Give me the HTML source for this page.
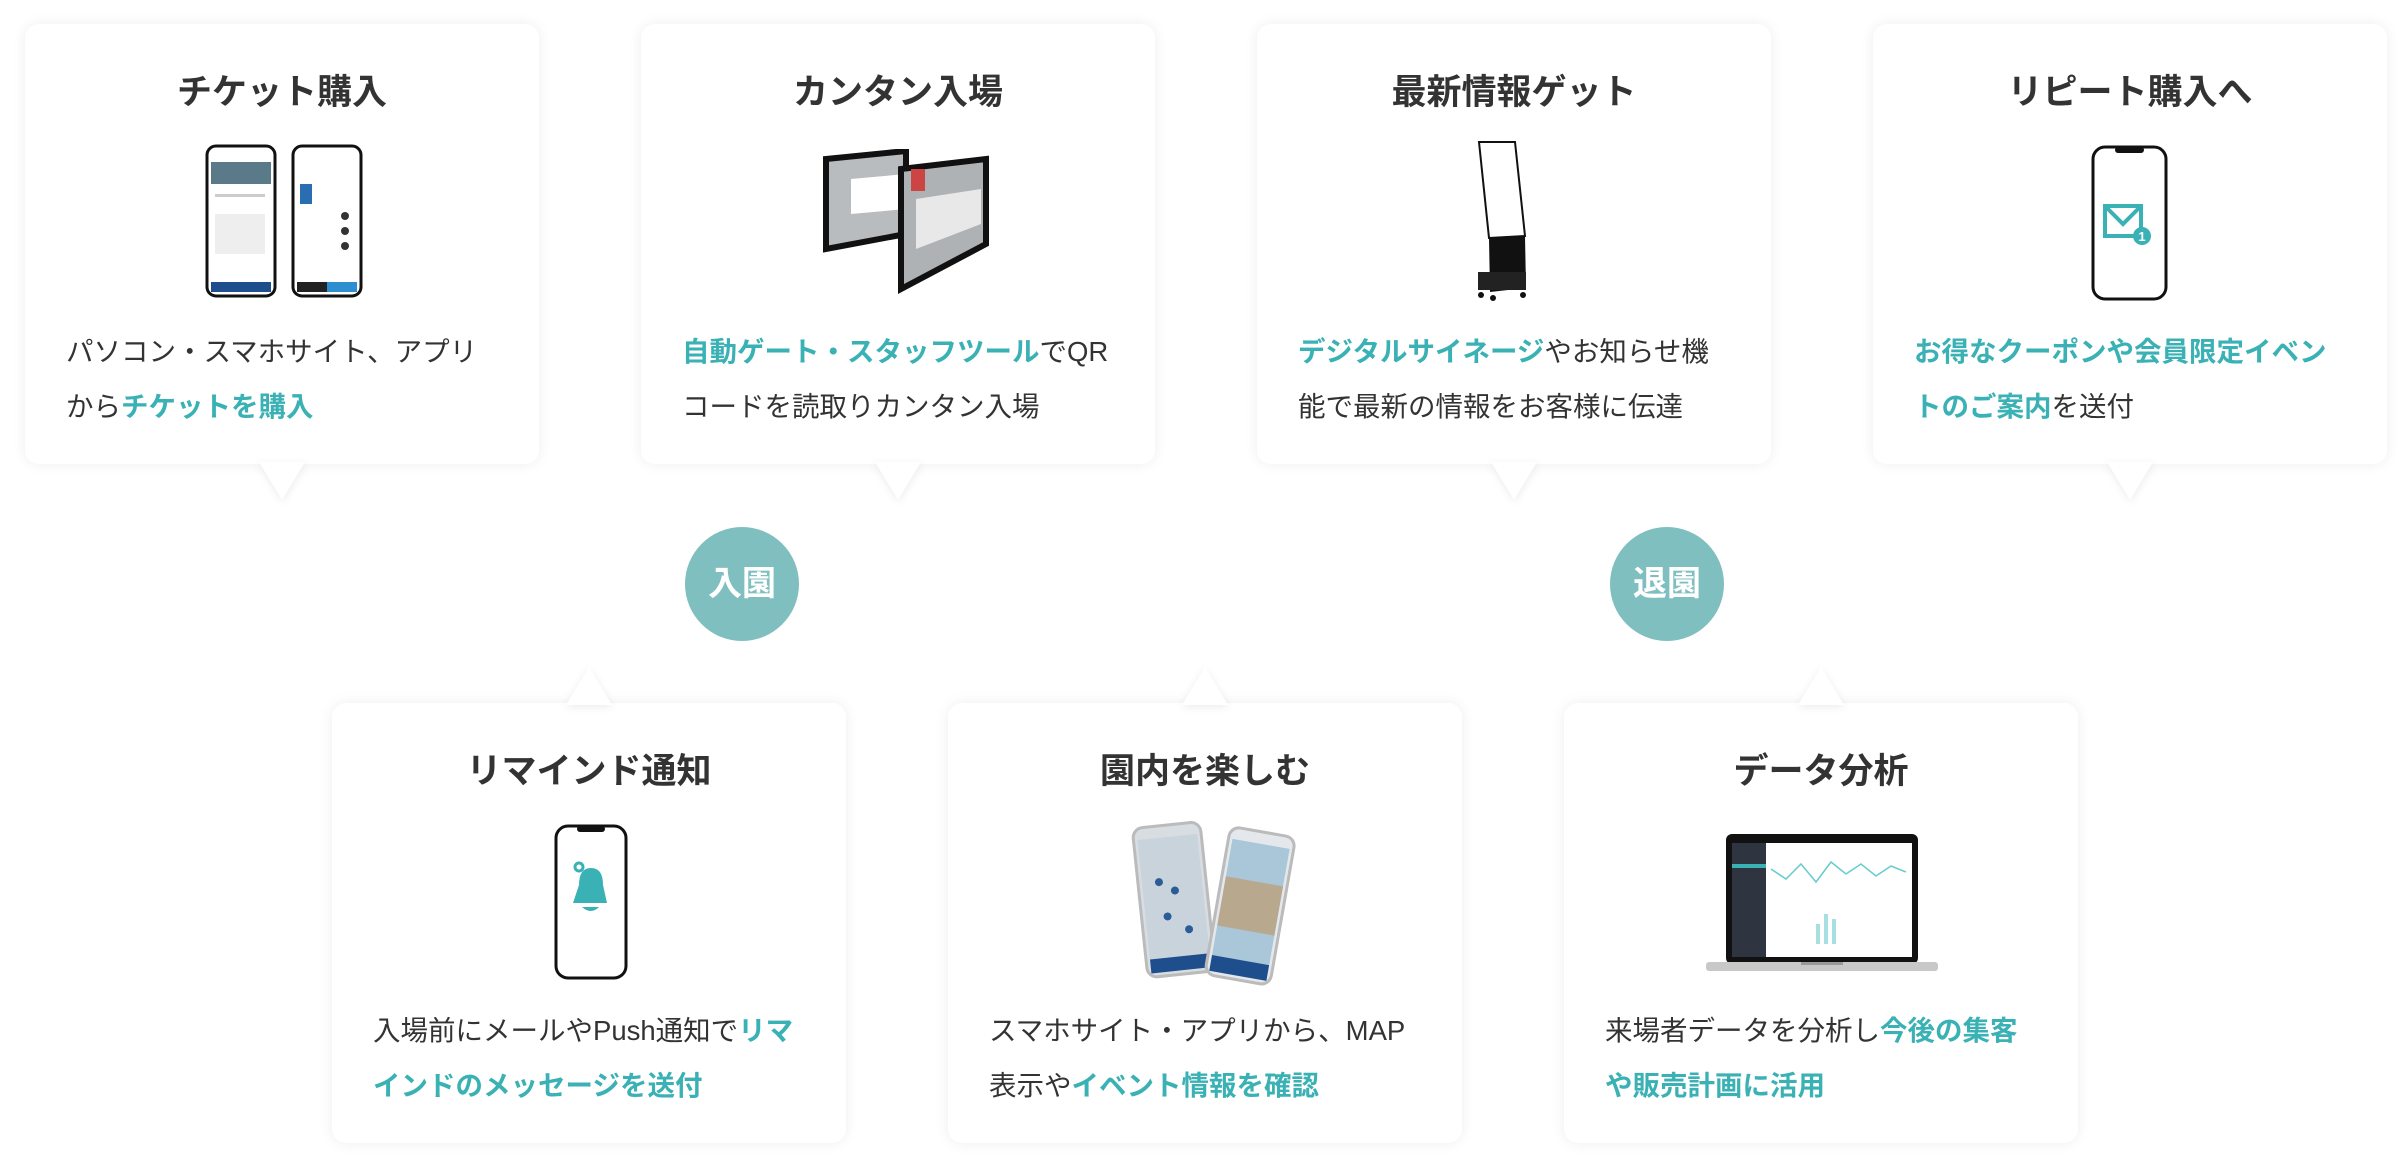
<!DOCTYPE html>
<html><head><meta charset="utf-8">
<style>
html,body{margin:0;padding:0;background:#fff;}
body{width:2408px;height:1168px;position:relative;overflow:hidden;font-family:"Liberation Sans","Noto Sans CJK JP",sans-serif;}
.card{position:absolute;width:514px;height:440px;background:#fff;border-radius:14px;box-shadow:0 0 14px rgba(0,0,0,0.07);}
.tw{position:absolute;width:46px;height:38px;filter:drop-shadow(0 2px 4px rgba(0,0,0,0.08));}
.tail{width:46px;height:38px;background:#fff;}
.tail.down{clip-path:polygon(0 0,100% 0,50% 100%);}
.tail.up{clip-path:polygon(50% 0,100% 100%,0 100%);}
.ttl{position:absolute;left:0;right:0;top:45px;text-align:center;font-size:35px;font-weight:bold;color:#333;letter-spacing:0;line-height:48px;white-space:nowrap;}
.txt{position:absolute;left:41px;top:300px;font-size:27.5px;line-height:55px;color:#333;white-space:nowrap;}
.t{color:#3ab1b4;font-weight:bold;}
.img{position:absolute;}
.circ{position:absolute;width:114px;height:114px;border-radius:50%;background:#7fbfc0;color:#fff;font-size:34px;font-weight:bold;text-align:center;line-height:114px;}
</style></head><body>

<!-- Card 1 -->
<div class="card" style="left:25px;top:24px">
 <div class="ttl">チケット購入</div>
 <svg class="img" style="left:180px;top:120px" width="160" height="155">
  <rect x="2" y="2" width="68" height="150" rx="9" fill="#fff" stroke="#111" stroke-width="3"/>
  <rect x="6" y="18" width="60" height="22" fill="#5a7a8a"/>
  <g fill="#ccc"><rect x="10" y="50" width="50" height="3"/><rect x="10" y="70" width="50" height="40" fill="#eee"/></g>
  <rect x="6" y="138" width="60" height="10" fill="#1f4e8c"/>
  <rect x="88" y="2" width="68" height="150" rx="9" fill="#fff" stroke="#111" stroke-width="3"/>
  <rect x="95" y="40" width="12" height="20" fill="#2a6db0"/>
  <g fill="#333"><circle cx="140" cy="72" r="4"/><circle cx="140" cy="87" r="4"/><circle cx="140" cy="102" r="4"/></g>
  <rect x="92" y="138" width="30" height="10" fill="#222"/><rect x="122" y="138" width="30" height="10" fill="#2e8fd0"/>
 </svg>
 <div class="txt">パソコン・スマホサイト、アプリ<br>から<span class="t">チケットを購入</span></div>
</div>

<!-- Card 2 -->
<div class="card" style="left:641px;top:24px">
 <div class="ttl">カンタン入場</div>
 <svg class="img" style="left:180px;top:125px" width="170" height="145">
  <polygon points="5,10 85,2 85,85 5,100" fill="#b9bcbf" stroke="#111" stroke-width="6"/>
  <polygon points="30,30 85,25 85,60 30,65" fill="#fff"/>
  <polygon points="80,20 165,10 165,95 80,140" fill="#aeb2b5" stroke="#111" stroke-width="6"/>
  <polygon points="95,50 160,40 160,75 95,100" fill="#e8e8e8"/>
  <rect x="90" y="20" width="14" height="22" fill="#c44" />
 </svg>
 <div class="txt"><span class="t">自動ゲート・スタッフツール</span>でQR<br>コードを読取りカンタン入場</div>
</div>

<!-- Card 3 -->
<div class="card" style="left:1257px;top:24px">
 <div class="ttl">最新情報ゲット</div>
 <svg class="img" style="left:218px;top:116px" width="80" height="162">
  <polygon points="4,2 40,2 50,96 14,98" fill="#fff" stroke="#111" stroke-width="2"/>
  <polygon points="14,98 50,96 51,148 15,152" fill="#111"/>
  <rect x="3" y="132" width="48" height="18" fill="#222"/>
  <circle cx="6" cy="155" r="3" fill="#111"/><circle cx="18" cy="158" r="3" fill="#111"/><circle cx="48" cy="155" r="3" fill="#111"/>
 </svg>
 <div class="txt"><span class="t">デジタルサイネージ</span>やお知らせ機<br>能で最新の情報をお客様に伝達</div>
</div>

<!-- Card 4 -->
<div class="card" style="left:1873px;top:24px">
 <div class="ttl">リピート購入へ</div>
 <svg class="img" style="left:217px;top:120px" width="80" height="160">
  <rect x="3" y="3" width="73" height="152" rx="12" fill="#fff" stroke="#111" stroke-width="3"/>
  <rect x="25" y="3" width="29" height="6" rx="3" fill="#111"/>
  <rect x="15" y="62" width="36" height="30" fill="none" stroke="#3ab1b4" stroke-width="4"/>
  <polyline points="15,62 33,80 51,62" fill="none" stroke="#3ab1b4" stroke-width="4"/>
  <circle cx="52" cy="92" r="9" fill="#3ab1b4"/>
  <text x="52" y="97" font-size="13" font-weight="bold" fill="#fff" text-anchor="middle" font-family="Liberation Sans">1</text>
 </svg>
 <div class="txt"><span class="t">お得なクーポンや会員限定イベン<br>トのご案内</span>を送付</div>
</div>

<!-- circles -->
<div class="circ" style="left:685px;top:527px">入園</div>
<div class="circ" style="left:1610px;top:527px">退園</div>

<!-- Card 5 -->
<div class="card" style="left:332px;top:703px">
 <div class="ttl">リマインド通知</div>
 <svg class="img" style="left:217px;top:120px" width="80" height="160">
  <rect x="7" y="3" width="70" height="152" rx="12" fill="#fff" stroke="#111" stroke-width="3"/>
  <rect x="28" y="3" width="28" height="6" rx="3" fill="#111"/>
  <path d="M30,62 Q30,45 42,45 Q54,45 54,62 L58,80 L24,80 Z" fill="#3ab1b4"/>
  <circle cx="30" cy="44" r="4" fill="none" stroke="#3ab1b4" stroke-width="3"/>
  <path d="M33,84 Q42,92 50,84" fill="#3ab1b4"/>
 </svg>
 <div class="txt">入場前にメールやPush通知で<span class="t">リマ<br>インドのメッセージを送付</span></div>
</div>

<!-- Card 6 -->
<div class="card" style="left:948px;top:703px">
 <div class="ttl">園内を楽しむ</div>
 <svg class="img" style="left:178px;top:118px" width="170" height="165">
  <g transform="rotate(-6 45 80)"><rect x="14" y="4" width="68" height="150" rx="10" fill="#d8dde2" stroke="#bbb" stroke-width="3"/>
  <rect x="18" y="16" width="60" height="120" fill="#c9d3dc"/><rect x="18" y="136" width="60" height="14" fill="#1f4e8c"/>
  <g fill="#2a5d98"><circle cx="35" cy="60" r="4"/><circle cx="50" cy="70" r="4"/><circle cx="40" cy="95" r="4"/><circle cx="60" cy="110" r="4"/></g></g>
  <g transform="rotate(10 125 80)"><rect x="92" y="10" width="66" height="150" rx="10" fill="#e4e8ec" stroke="#bbb" stroke-width="3"/>
  <rect x="96" y="22" width="58" height="118" fill="#a9c7d8"/><rect x="96" y="60" width="58" height="50" fill="#b8a98e"/>
  <rect x="96" y="140" width="58" height="16" fill="#1f4e8c"/></g>
 </svg>
 <div class="txt">スマホサイト・アプリから、MAP<br>表示や<span class="t">イベント情報を確認</span></div>
</div>

<!-- Card 7 -->
<div class="card" style="left:1564px;top:703px">
 <div class="ttl">データ分析</div>
 <svg class="img" style="left:142px;top:131px" width="232" height="140">
  <rect x="20" y="0" width="192" height="130" rx="6" fill="#111"/>
  <rect x="26" y="9" width="180" height="114" fill="#fff"/>
  <rect x="26" y="9" width="34" height="114" fill="#2e3440"/>
  <rect x="26" y="30" width="34" height="4" fill="#3ab1b4"/>
  <polyline points="65,35 80,45 95,30 110,48 125,28 140,40 155,30 170,42 185,32 200,38" fill="none" stroke="#6cc" stroke-width="1.5"/>
  <g fill="#a8e0e2"><rect x="110" y="90" width="4" height="20"/><rect x="118" y="80" width="4" height="30"/><rect x="126" y="85" width="4" height="25"/></g>
  <rect x="0" y="128" width="232" height="9" rx="3" fill="#c8c8c8"/>
  <rect x="95" y="128" width="42" height="3" fill="#999"/>
 </svg>
 <div class="txt">来場者データを分析し<span class="t">今後の集客<br>や販売計画に活用</span></div>
</div>

<!-- top tails -->
<div class="tw" style="left:259px;top:462px"><div class="tail down"></div></div>
<div class="tw" style="left:875px;top:462px"><div class="tail down"></div></div>
<div class="tw" style="left:1491px;top:462px"><div class="tail down"></div></div>
<div class="tw" style="left:2107px;top:462px"><div class="tail down"></div></div>
<!-- bottom tails -->
<div class="tw" style="left:566px;top:667px"><div class="tail up"></div></div>
<div class="tw" style="left:1182px;top:667px"><div class="tail up"></div></div>
<div class="tw" style="left:1798px;top:667px"><div class="tail up"></div></div>

</body></html>
